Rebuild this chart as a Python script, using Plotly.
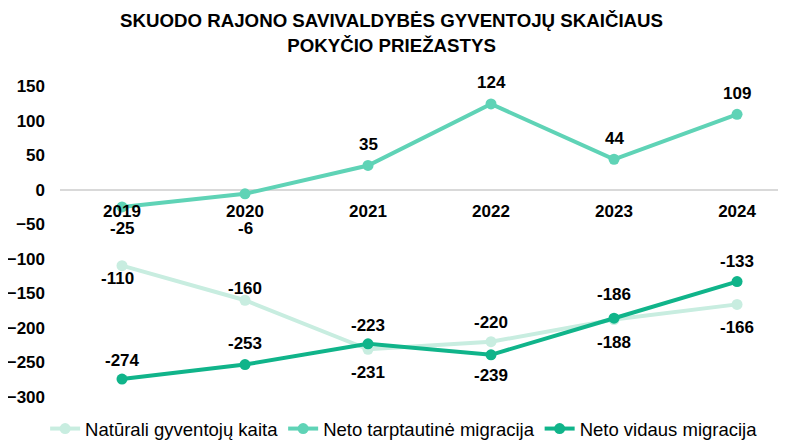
import plotly.graph_objects as go

years = ["2019", "2020", "2021", "2022", "2023", "2024"]
naturali = [-110, -160, -231, -220, -188, -166]
tarptautine = [-25, -6, 35, 124, 44, 109]
vidaus = [-274, -253, -223, -239, -186, -133]

# label offsets in pixels (positive = below the point)
off_naturali = [13, -12, 23, -19, 23, 23]
off_tarpt = [22, 35, -21, -21, -21, -21]
off_vidaus = [-19, -21, -18, 21, -24, -20]

x = list(range(len(years)))
font_main = "Liberation Sans, Arial, sans-serif"

fig = go.Figure()
series = [
    ("Natūrali gyventojų kaita", naturali, off_naturali, "#c8ede0"),
    ("Neto tarptautinė migracija", tarptautine, off_tarpt, "#5fd3b6"),
    ("Neto vidaus migracija", vidaus, off_vidaus, "#10b48a"),
]
annotations = []
for name, vals, offs, col in series:
    fig.add_trace(go.Scatter(
        x=x, y=vals, name=name, mode="lines+markers",
        line=dict(color=col, width=4), marker=dict(color=col, size=11),
        cliponaxis=False,
    ))
    for xi, v, o in zip(x, vals, offs):
        annotations.append(dict(
            x=xi, y=v, xref="x", yref="y", text=str(v), showarrow=False,
            yshift=-o, xshift=(-5 if (name.startswith("Nat") and xi == 0) else 0),
            font=dict(family=font_main, size=17, color="#000000", weight="bold"),
        ))

# page has an 8px body margin, so the figure is 8px smaller than the window
fig.update_layout(
    width=778, height=433,
    paper_bgcolor="white", plot_bgcolor="white",
    margin=dict(l=52, r=0, t=78, b=44, autoexpand=False),
    title=dict(
        text="SKUODO RAJONO SAVIVALDYBĖS GYVENTOJŲ SKAIČIAUS<br>POKYČIO PRIEŽASTYS",
        x=0.493, xanchor="center", y=0.955, yanchor="top",
        font=dict(family=font_main, size=18.7, color="#000000", weight="bold"),
    ),
    annotations=annotations,
    showlegend=True,
    legend=dict(
        orientation="h", x=0.474, xanchor="center", y=-0.103, yanchor="middle",
        font=dict(family=font_main, size=18.5, color="#000000"),
        itemwidth=30, tracegroupgap=0,
    ),
    xaxis=dict(
        tickmode="array", tickvals=x, ticktext=years,
        range=[-0.504, 5.398], showgrid=False, zeroline=False, showline=False,
        anchor="free", position=2/3, ticks="", ticklabelstandoff=9, automargin=False,
        tickfont=dict(family=font_main, size=17, color="#000000", weight="bold"),
    ),
    yaxis=dict(
        range=[-300, 150], tickvals=[150, 100, 50, 0, -50, -100, -150, -200, -250, -300],
        showgrid=False, zeroline=True, zerolinecolor="#d9d9d9", zerolinewidth=2,
        showline=False, ticks="", ticklabelstandoff=14, automargin=False,
        tickfont=dict(family=font_main, size=17, color="#000000", weight="bold"),
    ),
)

fig.write_html("out.html")
